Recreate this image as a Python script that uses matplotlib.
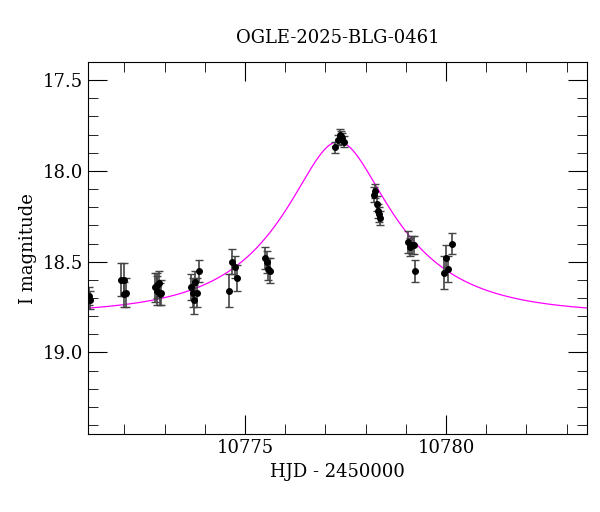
import numpy as np
import matplotlib
matplotlib.use("Agg")
import matplotlib.pyplot as plt
from matplotlib.ticker import MultipleLocator

plt.rcParams["font.family"] = "DejaVu Serif"

hjd = [10771.12, 10771.14,
       10771.92, 10771.98, 10772.00, 10772.05,
       10772.76, 10772.80, 10772.82, 10772.85, 10772.88, 10772.90,
       10773.66, 10773.70, 10773.73, 10773.76, 10773.80, 10773.85,
       10774.60, 10774.68, 10774.74, 10774.80,
       10775.50, 10775.55, 10775.58, 10775.62,
       10777.25, 10777.30, 10777.35, 10777.38, 10777.42, 10777.46,
       10778.20, 10778.24, 10778.27, 10778.30, 10778.33, 10778.36,
       10779.05, 10779.10, 10779.15, 10779.20, 10779.22,
       10779.95, 10780.00, 10780.05, 10780.15]
mag = [18.69, 18.71,
       18.60, 18.60, 18.68, 18.67,
       18.64, 18.63, 18.66, 18.62, 18.68, 18.67,
       18.64, 18.67, 18.71, 18.61, 18.67, 18.55,
       18.66, 18.50, 18.53, 18.59,
       18.48, 18.50, 18.54, 18.55,
       17.87, 17.83, 17.80, 17.81, 17.82, 17.84,
       18.13, 18.11, 18.18, 18.22, 18.24, 18.26,
       18.39, 18.42, 18.41, 18.41, 18.55,
       18.56, 18.48, 18.54, 18.40]
err = [0.05, 0.05,
       0.09, 0.09, 0.07, 0.08,
       0.08, 0.07, 0.08, 0.07, 0.06, 0.07,
       0.07, 0.08, 0.08, 0.06, 0.08, 0.06,
       0.09, 0.07, 0.06, 0.07,
       0.06, 0.06, 0.06, 0.07,
       0.03, 0.03, 0.03, 0.03, 0.03, 0.03,
       0.04, 0.04, 0.04, 0.04, 0.04, 0.04,
       0.06, 0.05, 0.05, 0.05, 0.06,
       0.09, 0.07, 0.07, 0.06]

t0, tE, u0, base, fs = 10777.32, 2.7, 0.40, 18.79, 0.85

fig = plt.figure(figsize=(6, 5.12), dpi=100)
ax = fig.add_axes([0.147, 0.152, 0.831, 0.727])

t = np.linspace(10771.0, 10783.6, 800)
u = np.sqrt(u0**2 + ((t - t0) / tE)**2)
A = (u**2 + 2) / (u * np.sqrt(u**2 + 4))
model = base - 2.5 * np.log10(fs * A + 1 - fs)
ax.plot(t, model, color="#ff00ff", lw=0.9, zorder=1)
ax.errorbar(hjd, mag, yerr=err, fmt="o", color="black", ms=4,
            ecolor="#444444", elinewidth=1.2, capsize=3, zorder=2)

ax.set_xlim(10771.1, 10783.5)
ax.set_ylim(19.45, 17.40)
ax.xaxis.set_major_locator(MultipleLocator(5))
ax.xaxis.set_minor_locator(MultipleLocator(1))
ax.yaxis.set_major_locator(MultipleLocator(0.5))
ax.yaxis.set_minor_locator(MultipleLocator(0.1))
ax.tick_params(which="both", direction="in", top=True, right=True, labelsize=13)
ax.tick_params(which="major", length=14)
ax.tick_params(which="minor", length=7)
ax.ticklabel_format(useOffset=False, axis="x")
ax.set_xlabel("HJD - 2450000", fontsize=13)
ax.set_ylabel("I magnitude", fontsize=13)
ax.set_title("OGLE-2025-BLG-0461", fontsize=13, pad=14)
fig.savefig("out.png", dpi=100)
